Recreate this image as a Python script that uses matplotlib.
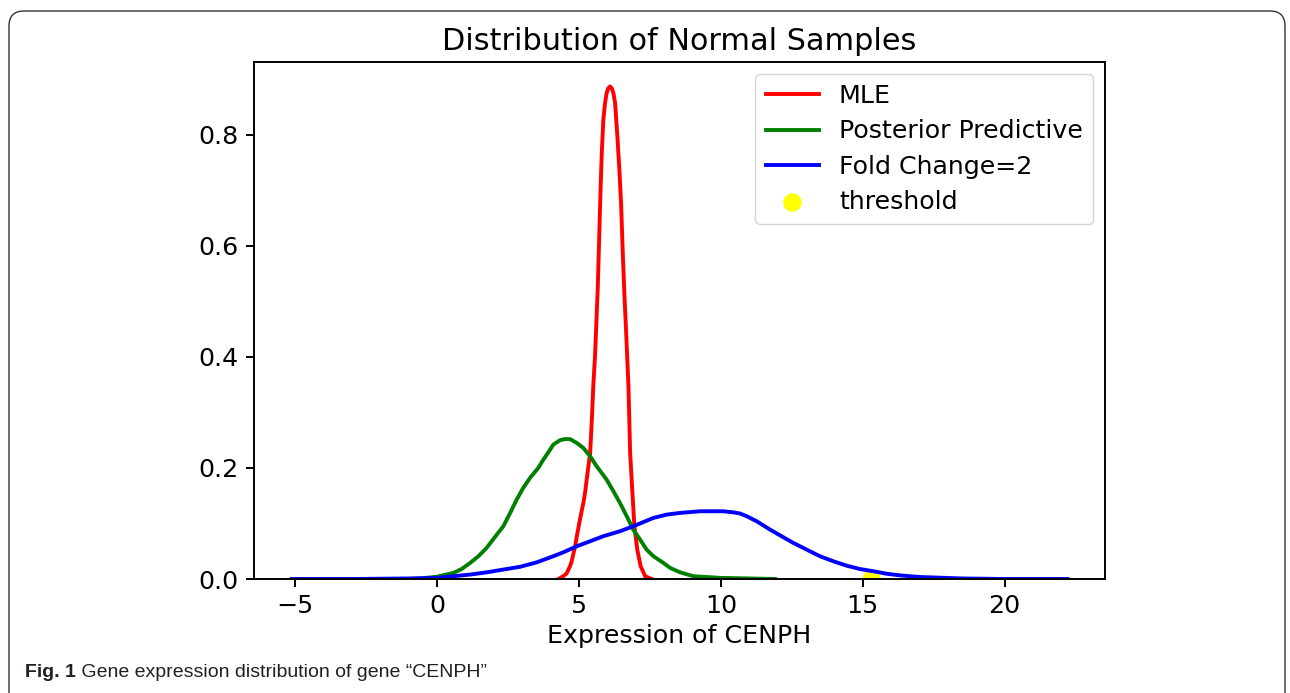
import matplotlib
matplotlib.use("Agg")
import matplotlib.pyplot as plt
from matplotlib.patches import FancyBboxPatch
from matplotlib.transforms import IdentityTransform

# curves (x, density)
mle_x = [4.27, 4.44, 4.56, 4.68, 4.74, 4.86, 4.92, 5.03, 5.15, 5.21, 5.27, 5.39, 5.45, 5.50, 5.56, 5.60,
         5.66, 5.71, 5.76, 5.80, 5.855, 5.915, 5.97, 6.03, 6.09, 6.15, 6.21, 6.27, 6.35, 6.42, 6.48, 6.54,
         6.60, 6.655, 6.74, 6.80, 6.88, 6.95, 7.05, 7.17, 7.33, 7.56]
mle_y = [0.0, 0.005, 0.010, 0.023, 0.032, 0.059, 0.077, 0.107, 0.137, 0.155, 0.180, 0.227, 0.287, 0.347, 0.40, 0.449,
         0.527, 0.617, 0.707, 0.767, 0.827, 0.857, 0.875, 0.884, 0.887, 0.884, 0.875, 0.857, 0.797, 0.737, 0.677, 0.587,
         0.509, 0.449, 0.347, 0.227, 0.155, 0.095, 0.053, 0.023, 0.005, 0.0]

post_x = [-0.90, -0.61, -0.02, 0.57, 0.86, 1.16, 1.45, 1.74, 2.10, 2.33, 2.57, 2.80, 3.03, 3.27, 3.56, 3.74,
          3.98, 4.09, 4.33, 4.50, 4.68, 4.92, 5.15, 5.39, 5.62, 5.97, 6.21, 6.44, 6.68, 6.91, 7.15, 7.38,
          7.62, 7.97, 8.21, 8.56, 9.03, 10.0, 11.0, 11.91]
post_y = [0.0, 0.001, 0.004, 0.011, 0.018, 0.029, 0.041, 0.056, 0.080, 0.095, 0.119, 0.143, 0.164, 0.182, 0.200, 0.215,
          0.233, 0.242, 0.250, 0.252, 0.252, 0.245, 0.236, 0.221, 0.203, 0.179, 0.158, 0.137, 0.113, 0.089, 0.071, 0.053,
          0.041, 0.029, 0.020, 0.012, 0.005, 0.002, 0.001, 0.0]

fold_x = [-5.13, -3.0, -1.0, 0.0, 0.57, 1.16, 1.74, 2.33, 2.92, 3.51, 4.09, 4.44, 4.92, 5.39, 5.85, 6.44, 6.91,
          7.62, 8.09, 8.56, 9.26, 9.62, 10.09, 10.44, 10.67, 10.91, 11.26, 11.73, 12.14, 12.55, 13.02, 13.49,
          13.96, 14.43, 14.90, 15.37, 15.84, 16.31, 16.67, 17.02, 18.5, 20.0, 22.22]
fold_y = [0.0, 0.0, 0.001, 0.002, 0.005, 0.008, 0.012, 0.017, 0.022, 0.030, 0.041, 0.048, 0.059, 0.068, 0.077, 0.086, 0.095,
          0.110, 0.116, 0.119, 0.122, 0.122, 0.122, 0.120, 0.118, 0.113, 0.104, 0.089, 0.077, 0.065, 0.053, 0.041,
          0.032, 0.024, 0.018, 0.014, 0.0095, 0.0065, 0.005, 0.0036, 0.001, 0.0, 0.0]

threshold_x = [15.3]
threshold_y = [0.0]

plt.rcParams["font.size"] = 18.2

fig = plt.figure(figsize=(12.9, 6.93), dpi=100)
ax = fig.add_axes([0.1969, 0.1645, 0.6597, 0.746])

lw = 2.8
ax.plot(mle_x, mle_y, color="red", lw=lw, label="MLE")
ax.plot(post_x, post_y, color="green", lw=lw, label="Posterior Predictive")
ax.plot(fold_x, fold_y, color="blue", lw=lw, label="Fold Change=2")
ax.scatter(threshold_x, threshold_y, s=150, color="yellow", label="threshold", zorder=1)

ax.set_xlim(-6.46, 23.54)
ax.set_ylim(0, 0.931)
ax.set_xticks([-5, 0, 5, 10, 15, 20])
ax.set_yticks([0.0, 0.2, 0.4, 0.6, 0.8])
ax.tick_params(length=6, width=1.4, pad=5)
for sp in ax.spines.values():
    sp.set_linewidth(1.4)

ax.set_title("Distribution of Normal Samples", fontsize=21.8, pad=9)
ax.set_xlabel("Expression of CENPH", labelpad=4)
ax.legend(loc="upper right", handlelength=2.1, labelspacing=0.44, borderaxespad=0.48)

# journal figure frame and caption
frame = FancyBboxPatch((9, -40), 1276, 722, boxstyle="round,pad=0,rounding_size=15",
                       transform=IdentityTransform(), fill=False, edgecolor="#333333", lw=1.0)
fig.add_artist(frame)

cap = fig.text(25 / 1290, 16 / 693, "Fig. 1", fontsize=14, fontweight="bold",
               family="Liberation Sans", color="#231f20")
ax.annotate(" Gene expression distribution of gene \u201cCENPH\u201d", xy=(1, 0), xycoords=cap,
            fontsize=14, family="Liberation Sans", color="#231f20", va="bottom", annotation_clip=False)

fig.savefig("out.png", dpi=100)
